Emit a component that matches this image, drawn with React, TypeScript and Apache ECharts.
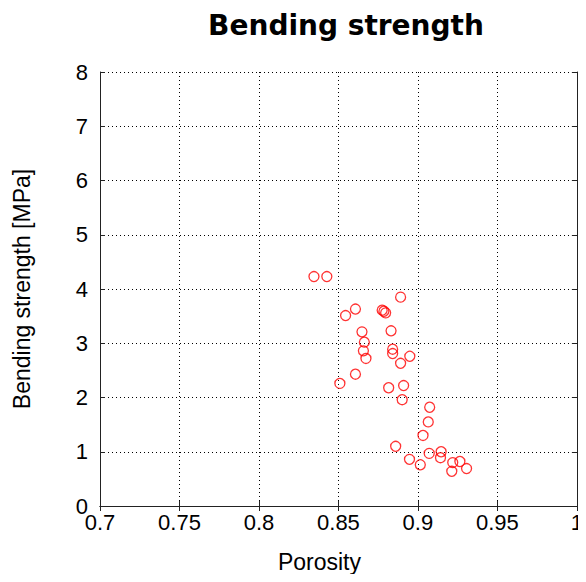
import React, { useEffect, useRef } from "react";
import * as echarts from "echarts";

// Porosity (x) and bending strength in MPa (y) of each specimen
const porosity = [
  0.8346, 0.8427, 0.8891, 0.8607, 0.8545, 0.8775, 0.8786, 0.8797, 0.8648, 0.8831,
  0.8663, 0.8657, 0.8673, 0.8841, 0.8841, 0.8949, 0.8891, 0.8607, 0.8509, 0.8816,
  0.891, 0.8901, 0.9074, 0.9065, 0.9032, 0.886, 0.9071, 0.9146, 0.9142, 0.8947,
  0.9015, 0.9219, 0.9264, 0.9213, 0.9306,
];
const strength = [
  4.23, 4.23, 3.85, 3.63, 3.51, 3.61, 3.59, 3.56, 3.21, 3.23,
  3.02, 2.86, 2.72, 2.89, 2.81, 2.76, 2.63, 2.43, 2.26, 2.18,
  2.22, 1.96, 1.82, 1.55, 1.3, 1.1, 0.97, 1.0, 0.89, 0.86,
  0.76, 0.8, 0.82, 0.64, 0.69,
];

const xTicks = { min: 0.7, max: 1, interval: 0.05 };
const yTicks = { min: 0, max: 8, interval: 1 };

const labelFont = "'Liberation Sans', Arial, sans-serif";

export default function App() {
  const ref = useRef<HTMLDivElement>(null);

  useEffect(() => {
    if (!ref.current) return;
    const chart = echarts.init(ref.current, null, { renderer: "svg" });
    const points = porosity.map((p, i) => [p, strength[i]]);

    const gridLine = {
      show: true,
      lineStyle: { color: "#000", type: [1, 3] as any, width: 1 },
    };
    const frameLine = { show: true, lineStyle: { color: "#222", width: 1 } };
    const innerTick = { show: true, inside: true, length: 5, lineStyle: { color: "#222" } };

    chart.setOption({
      animation: false,
      backgroundColor: "#fff",
      title: {
        text: "Bending strength",
        left: 341,
        top: 6,
        textAlign: "center",
        textStyle: {
          fontFamily: "'DejaVu Sans', Verdana, sans-serif",
          fontWeight: "bold",
          fontSize: 28,
          color: "#000",
        },
      },
      grid: { left: 100, right: 5, top: 72, bottom: 76 },
      xAxis: [
        {
          type: "value",
          ...xTicks,
          position: "bottom",
          axisLine: frameLine,
          axisTick: innerTick,
          splitLine: gridLine,
          axisLabel: {
            fontFamily: labelFont,
            fontSize: 22,
            color: "#000",
            margin: 5,
            formatter: (v: number) => String(Math.round(v * 100) / 100),
          },
          name: "Porosity",
          nameLocation: "middle",
          nameGap: 44,
          nameTextStyle: {
            fontFamily: labelFont,
            fontSize: 23,
            color: "#000",
            padding: [0, 38, 0, 0],
          },
        },
        {
          type: "value",
          ...xTicks,
          position: "top",
          axisLine: frameLine,
          axisTick: innerTick,
          splitLine: { show: false },
          axisLabel: { show: false },
        },
      ],
      yAxis: [
        {
          type: "value",
          ...yTicks,
          position: "left",
          axisLine: frameLine,
          axisTick: innerTick,
          splitLine: gridLine,
          axisLabel: {
            fontFamily: labelFont,
            fontSize: 22,
            color: "#000",
            margin: 12,
          },
          name: "Bending strength [MPa]",
          nameLocation: "middle",
          nameGap: 67,
          nameTextStyle: { fontFamily: labelFont, fontSize: 23, color: "#000" },
        },
        {
          type: "value",
          ...yTicks,
          position: "right",
          axisLine: frameLine,
          axisTick: innerTick,
          splitLine: { show: false },
          axisLabel: { show: false },
        },
      ],
      series: [
        {
          type: "scatter",
          data: points,
          symbol: "circle",
          symbolSize: 10,
          itemStyle: { color: "rgba(0,0,0,0)", borderColor: "#ff0000", borderWidth: 1.3 },
        },
      ],
    });

    return () => chart.dispose();
  }, []);

  return <div ref={ref} style={{ width: 586, height: 582, margin: -8 }} />;
}
